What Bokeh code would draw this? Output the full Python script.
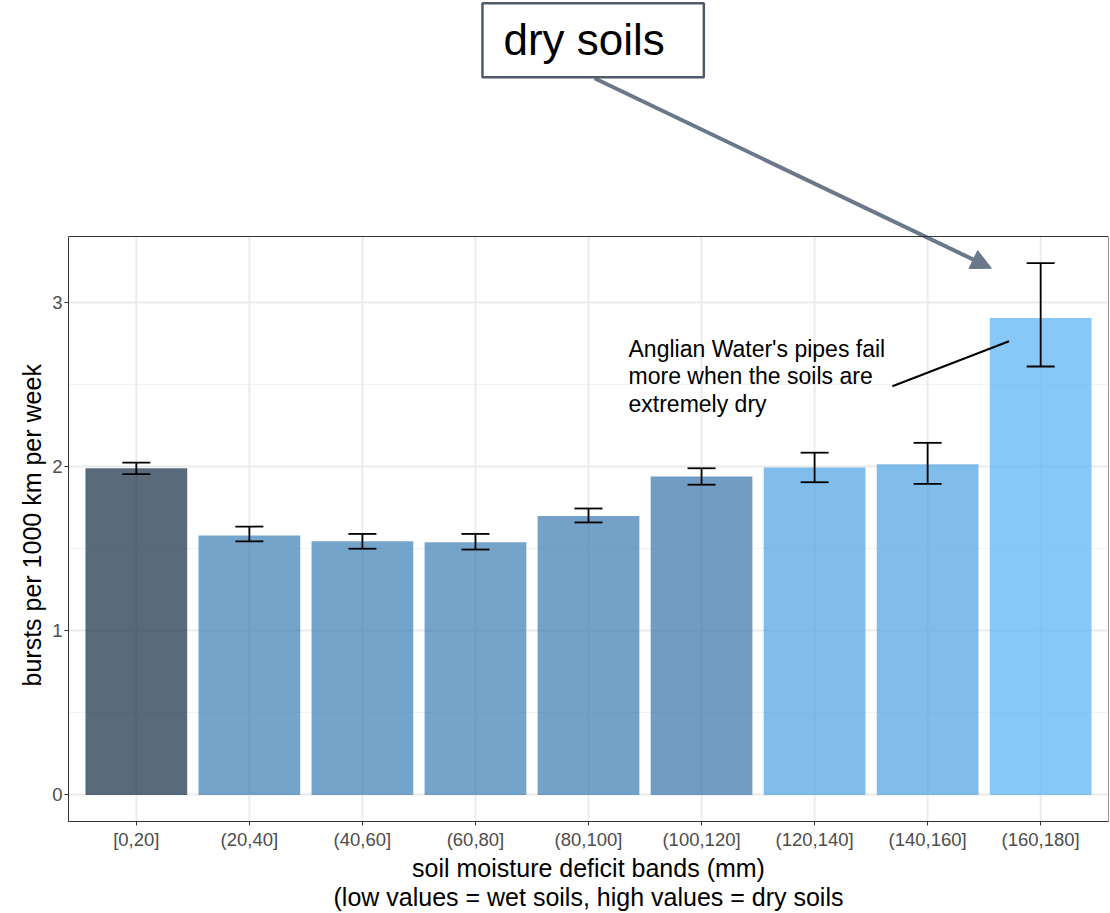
from bokeh.plotting import figure
from bokeh.models import (Range1d, FixedTicker, ColumnDataSource, Whisker, Label,
                          Arrow, NormalHead, TeeHead, BoxAnnotation, Title)
from bokeh.embed import file_html
from bokeh.resources import INLINE

# ---- data ----
bands = ["[0,20]", "(20,40]", "(40,60]", "(60,80]", "(80,100]",
         "(100,120]", "(120,140]", "(140,160]", "(160,180]"]
bursts = [1.99, 1.58, 1.545, 1.54, 1.70, 1.94, 1.995, 2.015, 2.905]
lower = [1.955, 1.545, 1.50, 1.495, 1.66, 1.89, 1.905, 1.895, 2.61]
upper = [2.025, 1.635, 1.59, 1.59, 1.745, 1.99, 2.085, 2.145, 3.24]
bar_colors = ["#132B43", "#3B7EB5", "#3B7EB5", "#3B7EB5", "#3879AF",
              "#3474AB", "#4CA1E2", "#4CA1E2", "#56B1F7"]
y_ticks = [0, 1, 2, 3]
y_minor = [0.5, 1.5, 2.5]

n = len(bands)
xs = list(range(1, n + 1))
src = ColumnDataSource(dict(x=xs, y=bursts, lo=lower, hi=upper, c=bar_colors))

# panel limits (ggplot-style expansion)
y_lo = -0.05 * max(upper)
y_hi = 1.05 * max(upper)
x_lo, x_hi = 0.4, n + 0.6

FONT = "Liberation Sans"

p = figure(width=1110, height=913, output_backend="svg", toolbar_location=None,
           x_range=Range1d(x_lo, x_hi), y_range=Range1d(y_lo, 4.84),
           min_border_left=68, min_border_right=2, min_border_top=0,
           min_border_bottom=92)

# vertical grid lines limited to the panel
p.segment(x0=xs, y0=y_lo, x1=xs, y1=y_hi, line_color="#ebebeb", line_width=2)

p.vbar(x="x", top="y", bottom=0, width=0.9, source=src, fill_color="c",
       fill_alpha=0.7, line_color=None)

w = Whisker(base="x", upper="hi", lower="lo", source=src, line_color="black",
            line_width=1.8, level="overlay",
            upper_head=TeeHead(size=28, line_color="black", line_width=1.8),
            lower_head=TeeHead(size=28, line_color="black", line_width=1.8))
p.add_layout(w)

# axes
p.xaxis.ticker = FixedTicker(ticks=xs)
p.xaxis.major_label_overrides = {x: b for x, b in zip(xs, bands)}
p.yaxis.ticker = FixedTicker(ticks=y_ticks, minor_ticks=y_minor)
p.yaxis.bounds = (y_lo, y_hi)
for ax in (p.xaxis[0], p.yaxis[0]):
    ax.axis_line_color = "#333333"
    ax.major_tick_line_color = "#333333"
    ax.major_tick_out = 4
    ax.major_tick_in = 0
    ax.minor_tick_out = 0
    ax.minor_tick_in = 0
    ax.major_label_text_font = FONT
    ax.major_label_text_font_size = "18.5px"
    ax.major_label_text_color = "#4d4d4d"

p.xaxis.axis_label = ("soil moisture deficit bands (mm)\n"
                      "(low values = wet soils, high values = dry soils")
p.xaxis.axis_label_text_font = FONT
p.xaxis.axis_label_text_font_size = "25px"
p.xaxis.axis_label_text_font_style = "normal"
p.xaxis.axis_label_text_color = "black"
p.xaxis.axis_label_text_line_height = 1.05
p.xaxis.major_label_standoff = 3
p.yaxis.major_label_standoff = 2
p.xaxis.axis_label_standoff = 1

# y axis title centred on the panel (not on the extended frame)
p.add_layout(Title(text="bursts per 1000 km per week", align="left",
                   offset=135, standoff=8, text_font=FONT,
                   text_font_size="25px", text_font_style="normal",
                   text_color="black"), "left")

p.xgrid.grid_line_color = None
p.ygrid.grid_line_color = "#ebebeb"
p.ygrid.grid_line_width = 2
p.ygrid.minor_grid_line_color = "#f2f2f2"
p.ygrid.minor_grid_line_width = 1
p.outline_line_color = None
p.background_fill_color = "white"
p.border_fill_color = "white"

# panel border
p.add_layout(BoxAnnotation(left=x_lo, right=x_hi, bottom=y_lo, top=y_hi,
                           fill_alpha=0, line_color="#333333", line_width=1,
                           line_alpha=1, level="overlay"))

# annotation callout
p.segment(x0=7.688, y0=2.49, x1=8.72, y1=2.764, line_color="black", line_width=2)
p.add_layout(Label(x=5.354, y=2.795,
                   text="Anglian Water's pipes fail\nmore when the soils are\nextremely dry",
                   text_font=FONT, text_font_size="23px", text_color="black",
                   text_align="left", text_baseline="top", text_line_height=1.05))

# "dry soils" box and arrow
p.add_layout(Arrow(x_start=5.053, y_start=4.366, x_end=8.564, y_end=3.209,
                   line_color="#6b788c", line_width=4,
                   end=NormalHead(size=20, fill_color="#6b788c", line_color="#6b788c")))
p.add_layout(Label(x=4.062, y=4.598, text="dry soils", text_font=FONT,
                   text_font_size="44px", text_color="black",
                   text_align="left", text_baseline="middle",
                   background_fill_color="white", border_line_color="#4f5b6b",
                   border_line_width=2.5,
                   padding=dict(left=21, right=39, top=12, bottom=13)))

open("out.html", "w").write(file_html(p, INLINE))
